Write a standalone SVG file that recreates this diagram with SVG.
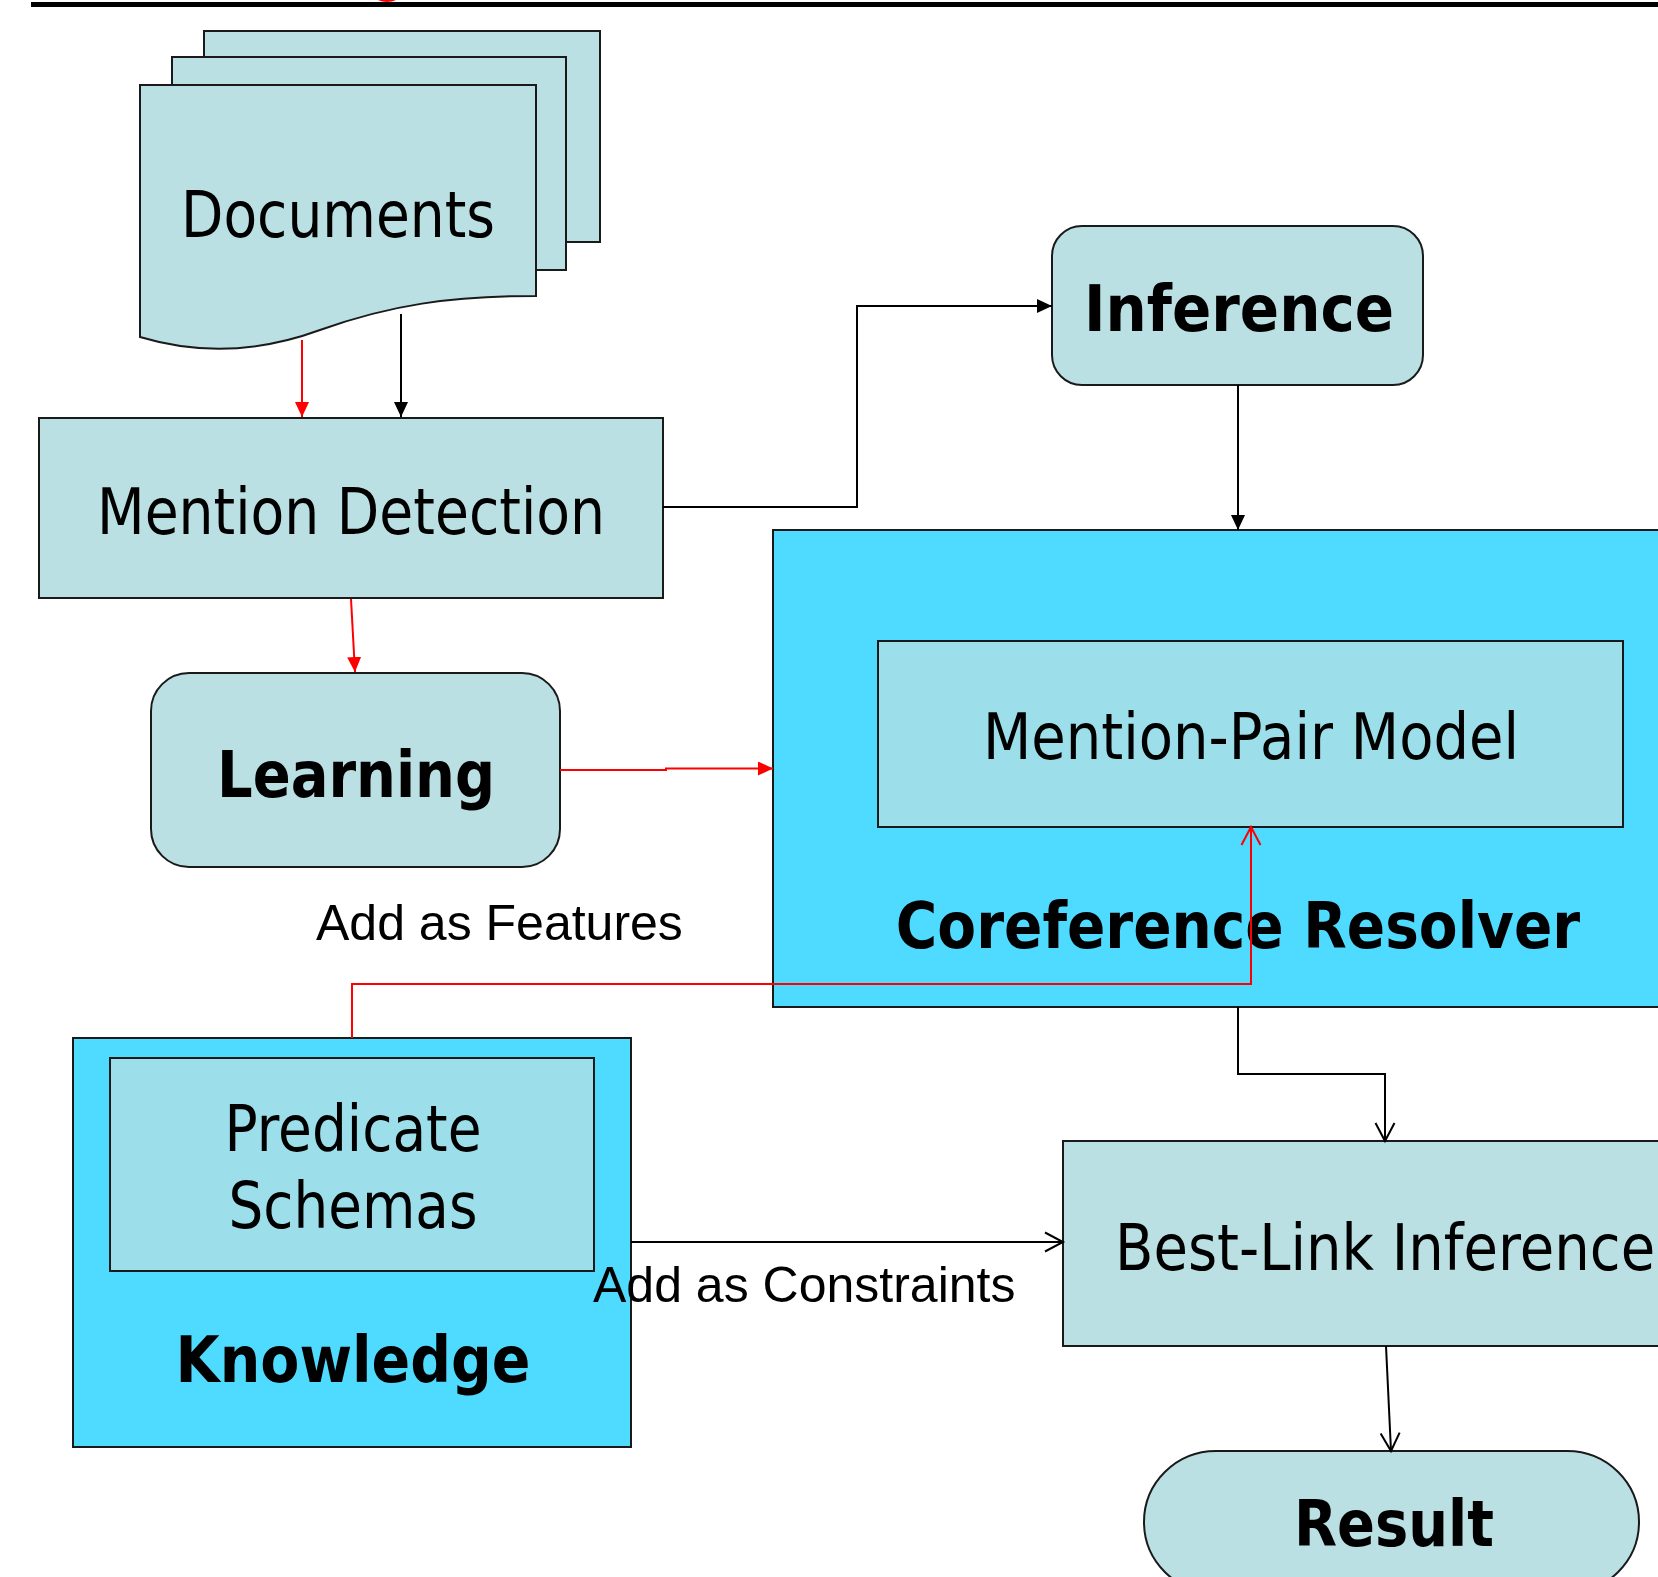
<svg xmlns="http://www.w3.org/2000/svg" width="1658" height="1577" viewBox="0 0 1658 1577">
  <defs>
    <marker id="tri-k" markerUnits="userSpaceOnUse" viewBox="0 0 15 14" refX="15" refY="7" markerWidth="15" markerHeight="14" orient="auto">
      <path d="M0,0 L15,7 L0,14 z" fill="#000"/>
    </marker>
    <marker id="tri-r" markerUnits="userSpaceOnUse" viewBox="0 0 15 14" refX="15" refY="7" markerWidth="15" markerHeight="14" orient="auto">
      <path d="M0,0 L15,7 L0,14 z" fill="#f00"/>
    </marker>
    <marker id="v-k" markerUnits="userSpaceOnUse" viewBox="-2 -2 22 23" refX="18" refY="9.5" markerWidth="22" markerHeight="23" orient="auto" overflow="visible">
      <path d="M0,0 L18,9.5 L0,19" fill="none" stroke="#000" stroke-width="2"/>
    </marker>
    <marker id="v-r" markerUnits="userSpaceOnUse" viewBox="-2 -2 22 23" refX="18" refY="9.5" markerWidth="22" markerHeight="23" orient="auto" overflow="visible">
      <path d="M0,0 L18,9.5 L0,19" fill="none" stroke="#f00" stroke-width="2"/>
    </marker>
  </defs>
  <style>
    .node{fill:#bae0e3;stroke:#1a1a1a;stroke-width:2}
    .group{fill:#4fdbff;stroke:#1a1a1a;stroke-width:2}
    .inner{fill:#9cdfeb;stroke:#1a1a1a;stroke-width:2}
    .t{font-family:"DejaVu Sans",Verdana,sans-serif;font-size:64px;fill:#000;text-anchor:middle}
    .b{font-weight:bold}
    .lbl{font-family:"Liberation Sans",Arial,sans-serif;font-size:50px;fill:#000}
    .k{fill:none;stroke:#000;stroke-width:2}
    .r{fill:none;stroke:#f00;stroke-width:2}
  </style>

  <rect width="1658" height="1577" fill="#fff"/>

  <!-- header rule -->
  <ellipse cx="387" cy="-8" rx="15" ry="10" fill="#f00"/>
  <rect x="31" y="2" width="1627" height="5" fill="#000"/>

  <!-- stacked document pages -->
  <g id="documents">
    <rect class="node" x="204" y="31" width="396" height="211"/>
    <rect class="node" x="172" y="57" width="394" height="213"/>
    <path class="node" d="M140,85 H536 V296 C450,296 390,305 320,330 C260,352 200,355 140,337 Z"/>
    <text class="t" x="338" y="237" textLength="314" lengthAdjust="spacingAndGlyphs">Documents</text>
  </g>

  <g id="mention-detection">
    <rect class="node" x="39" y="418" width="624" height="180"/>
    <text class="t" x="351" y="534" textLength="508" lengthAdjust="spacingAndGlyphs">Mention Detection</text>
  </g>

  <g id="learning">
    <rect class="node" x="151" y="673" width="409" height="194" rx="38" ry="38"/>
    <text class="t b" x="356" y="797" textLength="278" lengthAdjust="spacingAndGlyphs">Learning</text>
  </g>

  <g id="inference">
    <rect class="node" x="1052" y="226" width="371" height="159" rx="30" ry="30"/>
    <text class="t b" x="1239" y="331" textLength="310" lengthAdjust="spacingAndGlyphs">Inference</text>
  </g>

  <g id="coreference-resolver">
    <rect class="group" x="773" y="530" width="886" height="477"/>
    <text class="t b" transform="translate(1238,948) scale(0.883,1)" x="0" y="0" textLength="775" lengthAdjust="spacingAndGlyphs">Coreference Resolver</text>
  </g>

  <g id="mention-pair-model">
    <rect class="inner" x="878" y="641" width="745" height="186"/>
    <text class="t" x="1251" y="759" textLength="536" lengthAdjust="spacingAndGlyphs">Mention-Pair Model</text>
  </g>

  <g id="knowledge">
    <rect class="group" x="73" y="1038" width="558" height="409"/>
    <text class="t b" x="353" y="1382" textLength="355" lengthAdjust="spacingAndGlyphs">Knowledge</text>
  </g>

  <g id="predicate-schemas">
    <rect class="inner" x="110" y="1058" width="484" height="213"/>
    <text class="t" x="353" y="1151" textLength="257" lengthAdjust="spacingAndGlyphs">Predicate</text>
    <text class="t" x="353" y="1228" textLength="249" lengthAdjust="spacingAndGlyphs">Schemas</text>
  </g>

  <g id="best-link-inference">
    <rect class="node" x="1063" y="1141" width="596" height="205"/>
    <text class="t" transform="translate(1115,1270) scale(0.874,1)" x="0" y="0" style="text-anchor:start" textLength="618" lengthAdjust="spacingAndGlyphs">Best-Link Inference</text>
  </g>

  <g id="result">
    <rect class="node" x="1144" y="1451" width="495" height="142" rx="72" ry="71"/>
    <text class="t b" x="1394" y="1546" textLength="200" lengthAdjust="spacingAndGlyphs">Result</text>
  </g>

  <!-- connectors -->
  <g id="connectors">
    <path class="r" d="M302,340 V417" marker-end="url(#tri-r)"/>
    <path class="k" d="M401,314 V417" marker-end="url(#tri-k)"/>
    <path class="r" d="M351,599 L355,672" marker-end="url(#tri-r)"/>
    <path class="k" d="M663,507 H857 V306 H1052" marker-end="url(#tri-k)"/>
    <path class="k" d="M1238,385 V530" marker-end="url(#tri-k)"/>
    <path class="r" d="M560,770 H666 V768.5 H773" marker-end="url(#tri-r)"/>
    <path class="r" d="M352,1038 V984 H1251 V827" marker-end="url(#v-r)"/>
    <path class="k" d="M1238,1007 V1074 H1385 V1141" marker-end="url(#v-k)"/>
    <path class="k" d="M631,1242 H1063" marker-end="url(#v-k)"/>
    <path class="k" d="M1386,1346 L1391,1451" marker-end="url(#v-k)"/>
  </g>

  <!-- edge labels -->
  <text class="lbl" x="316" y="940">Add as Features</text>
  <text class="lbl" x="593" y="1302">Add as Constraints</text>
</svg>
